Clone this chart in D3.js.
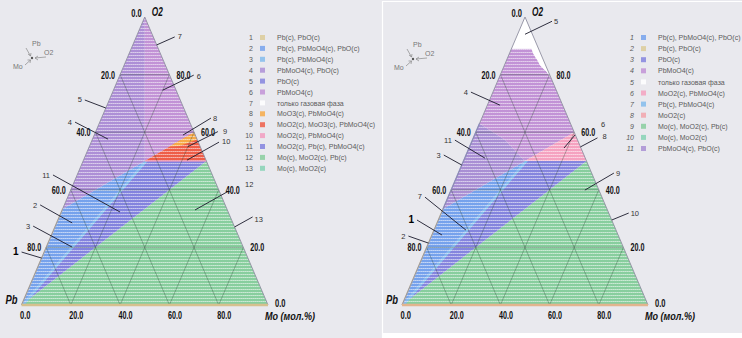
<!DOCTYPE html>
<html><head><meta charset="utf-8">
<script src="https://cdn.jsdelivr.net/npm/d3@7"></script>
<style>body{margin:0;background:#fff}svg{display:block}</style>
</head><body>
<svg id="c" width="742" height="338"></svg>
<script>
// ---------------- DATA ----------------
// compositions as [Mo, O2] mol.% (Pb = 100 - Mo - O2)
const cPb = [0, 0], cMo = [100, 0], cO2 = [0, 100];
const cPbO = [0, 33.3], cPbMoO4 = [25, 50], cMoO2 = [50, 50], cMoO3 = [40, 60];

const tickValues = [0, 20, 40, 60, 80];
const tickLabels = ["0.0", "20.0", "40.0", "60.0", "80.0"];
const apexLabel = "O2", leftVertexLabel = "Pb", rightVertexLabel = "Mo (мол.%)";

// left diagram legend
const leftLegendLabels = ["Pb(c), PbO(c)", "Pb(c), PbMoO4(c), PbO(c)", "Pb(c), PbMoO4(c)", "PbMoO4(c), PbO(c)",
  "PbO(c)", "PbMoO4(c)", "только газовая фаза", "MoO3(c), PbMoO4(c)", "MoO2(c), MoO3(c), PbMoO4(c)",
  "MoO2(c), PbMoO4(c)", "MoO2(c), Pb(c), PbMoO4(c)", "Mo(c), MoO2(c), Pb(c)", "Mo(c), MoO2(c)"];
const leftLegendColors = ["#dccb98", "#76a2ec", "#84bcec", "#ad8fd6", "#8585de", "#c293d6", "#ffffff",
  "#f7aa48", "#ee5e48", "#f29cc0", "#8383de", "#88ce9e", "#86d2b4"];
// regions: legend index (1-based) and polygon vertices
const leftRegions = [
  {k: 12, pts: [cPb, cMo, cMoO2]},
  {k: 11, pts: [cPb, cMoO2, cPbMoO4]},
  {k: 2, pts: [cPb, cPbMoO4, cPbO]},
  {k: 3, pts: [cPb, cPbMoO4, [26.2, 50], [1.2, 0]]},
  {k: 4, pts: [cPbO, cPbMoO4, cO2]},
  {k: 6, pts: [cPbMoO4, cO2, cMoO3]},
  {k: 9, pts: [cPbMoO4, cMoO2, cMoO3]},
  {k: 8, pts: [[32.5, 55], cMoO3, [42.5, 57.5], [36.5, 55.2]]}
];
const leftEdgeLines = [
  {k: 1, pts: [cPb, cPbO]}, {k: 10, pts: [cPbMoO4, cMoO2]}
];
const leftNotes = [
  {t: "7", at: [9.7, 90.3], end: [18, -8], txt: [21, -9]},
  {t: "6", at: [20, 74.6], end: [31, -15], txt: [34, -14]},
  {t: "5", at: [0, 68.4], end: [-21, -8], txt: [-24, -9]},
  {t: "4", at: [6.3, 57.6], end: [-33, -17], txt: [-36, -17]},
  {t: "8", at: [36, 59], end: [28, -17], txt: [30, -17]},
  {t: "9", at: [40, 55], end: [30, -15], txt: [35, -16]},
  {t: "10", at: [42, 50.3], end: [32, -18], txt: [35, -19]},
  {t: "11", at: [23.8, 32.3], end: [-67, -37], txt: [-70, -37]},
  {t: "2", at: [6.3, 28.5], end: [-32, -18], txt: [-35, -18]},
  {t: "3", at: [10.5, 20.1], end: [-39, -21], txt: [-42, -21]},
  {t: "1", at: [0, 16.3], end: [-20, -6], txt: [-23, -6], bold: true},
  {t: "12", at: [53.9, 33], end: [32, -18], txt: [50, -26]},
  {t: "13", at: [72.9, 27.1], end: [18, -10], txt: [20, -8]}
];

// right diagram legend
const rightLegendLabels = ["Pb(c), PbMoO4(c), PbO(c)", "Pb(c), PbO(c)", "PbO(c)", "PbMoO4(c)",
  "только газовая фаза", "MoO2(c), PbMoO4(c)", "Pb(c), PbMoO4(c)", "MoO2(c)", "Mo(c), MoO2(c), Pb(c)",
  "Mo(c), MoO2(c)", "PbMoO4(c), PbO(c)"];
const rightLegendColors = ["#76a2ec", "#dccb98", "#8585de", "#c293d6", "#ffffff", "#f5a2c0", "#84bcec",
  "#f2a4ac", "#88ce9e", "#86d2b4", "#a98fd4"];
const whiteBoundary = [[0, 89], [8.2, 89], [9.5, 87.5], [11, 86.2], [12.8, 84.8], [14.4, 83.3], [16.5, 82], [18.3, 81], [21.3, 78.7]];
const rightRegions = [
  {k: 9, pts: [cPb, cMo, cMoO2]},
  {k: 3, pts: [cPb, cMoO2, cPbMoO4]},
  {k: 1, pts: [cPb, cPbMoO4, cPbO]},
  {k: 7, pts: [cPb, cPbMoO4, [26.2, 50], [1.2, 0]]},
  {k: 11, pts: [cPbO, cPbMoO4, [13, 57.5], [0, 63]]},
  {k: 4, pts: [[0, 63], [13, 57.5], cPbMoO4, cMoO3].concat(whiteBoundary.slice().reverse())},
  {k: 6, pts: [cPbMoO4, cMoO2, cMoO3]},
  {k: 5, pts: [cO2].concat(whiteBoundary)}
];
const rightEdgeLines = [{k: 2, pts: [cPb, cPbO]}, {k: 3, pts: [cPbO, [0, 63]]}];
const rightNotes = [
  {t: "5", at: [3, 94], end: [27, -13], txt: [29, -13]},
  {t: "4", at: [5.1, 69.4], end: [-29, -13], txt: [-32, -13]},
  {t: "11", at: [8.2, 51], end: [-30, -18], txt: [-33, -18]},
  {t: "3", at: [0, 48.6], end: [-18, -10], txt: [-21, -10]},
  {t: "6", at: [38.6, 54.5], end: [11, -13], txt: [37, -24]},
  {t: "8", at: [45.1, 54.9], end: [17, -9], txt: [22, -11]},
  {t: "9", at: [54.4, 39.9], end: [29, -17], txt: [31, -17]},
  {t: "10", at: [70.5, 29.5], end: [17, -7], txt: [19, -7]},
  {t: "7", at: [13, 26], end: [-41, -33], txt: [-44, -34]},
  {t: "1", at: [4.1, 24.3], end: [-25, -15], txt: [-28, -15], bold: true},
  {t: "2", at: [0, 21.5], end: [-20, -7], txt: [-23, -7]}
];

// ---------------- DRAW ----------------
const svg = d3.select("#c");
const defs = svg.append("defs");
const patDone = {};
function pat(color) {
  const id = "p" + color.slice(1);
  if (!patDone[id]) {
    patDone[id] = 1;
    const p = defs.append("pattern").attr("id", id).attr("patternUnits", "userSpaceOnUse")
      .attr("width", 2).attr("height", 3);
    p.append("rect").attr("width", 2).attr("height", 3).attr("fill", color);
    p.append("rect").attr("y", 1).attr("width", 2).attr("height", 1).attr("fill", "#fff").attr("opacity", 0.4);
    p.append("rect").attr("x", 1).attr("y", 1).attr("width", 1).attr("height", 1).attr("fill", "#fff").attr("opacity", 0.25);
  }
  return "url(#" + id + ")";
}

svg.append("rect").attr("width", 742).attr("height", 338).attr("fill", "#e9e9ee");
svg.append("rect").attr("x", 382).attr("y", 333).attr("width", 360).attr("height", 5).attr("fill", "#ffffff");
svg.append("path").attr("d", "M382.5,338V1.5H742").attr("fill", "none").attr("stroke", "#fff").attr("stroke-width", 1.2);

const tickFont = "'Liberation Sans Narrow','Arial Narrow','Liberation Sans',sans-serif";
const legFont = "'Liberation Sans',Arial,sans-serif";

function drawPanel(o) {
  const g = svg.append("g");
  const sx = d3.scaleLinear().domain([0, 100]).range([o.x0, o.x1]);
  const sy = d3.scaleLinear().domain([0, 100]).range([o.yBase, o.yTop]);
  const P = d => [sx(d[0] + d[1] / 2), sy(d[1])];
  const line = d3.line();

  o.regions.forEach(r => {
    const col = o.colors[r.k - 1];
    g.append("path").attr("d", line(r.pts.map(P)) + "Z")
      .attr("fill", col === "#ffffff" ? "#ffffff" : pat(col)).attr("stroke", "none");
  });
  o.edgeLines.forEach(r => {
    g.append("path").attr("d", line(r.pts.map(P))).attr("fill", "none")
      .attr("stroke", o.colors[r.k - 1]).attr("stroke-width", 1.3).attr("opacity", 0.8);
  });

  // grid
  const grid = g.append("g").attr("stroke", "#24402f").attr("stroke-opacity", 0.55).attr("stroke-width", 0.6);
  tickValues.filter(v => v > 0).forEach(v => {
    grid.append("path").attr("d", line([[0, v], [100 - v, v]].map(P)));
    grid.append("path").attr("d", line([[v, 0], [v, 100 - v]].map(P)));
    grid.append("path").attr("d", line([[100 - v, 0], [0, 100 - v]].map(P)));
  });

  // edges
  g.append("path").attr("d", line([cPb, cO2, cMo].map(P))).attr("fill", "none")
    .attr("stroke", "#8e8ea0").attr("stroke-width", 0.9);
  g.append("path").attr("d", line([cPb, cMo].map(P))).attr("fill", "none")
    .attr("stroke", o.baseColor).attr("stroke-width", 2.4);

  // tick labels (condensed bold)
  const tl = g.append("g").attr("font-family", tickFont).attr("font-weight", "bold")
    .attr("font-size", "10px").attr("fill", "#111");
  const tx = (sel, s) => sel.text(s).attr("textLength", s.length * 3.5).attr("lengthAdjust", "spacingAndGlyphs");
  tickValues.forEach((v, i) => {
    const pl = P([0, 100 - v]);       // left edge: Pb = v
    tx(tl.append("text").attr("x", pl[0] - (v === 0 ? 3 : 5)).attr("y", pl[1] + (v === 0 ? 0 : 4))
      .attr("text-anchor", "end"), tickLabels[i]);
    const pr = P([100 - v, v]);       // right edge: O2 = v
    tx(tl.append("text").attr("x", pr[0] + 7).attr("y", pr[1] + (v === 0 ? 2 : 4)), tickLabels[i]);
    const pb = P([v, 0]);             // bottom: Mo = v
    tx(tl.append("text").attr("x", pb[0] - 1.5).attr("y", o.yBase + 13.5), tickLabels[i]);
  });
  const vl = g.append("g").attr("font-family", tickFont).attr("font-weight", "bold")
    .attr("font-style", "italic").attr("fill", "#111");
  const pa = P(cO2), pp = P(cPb), pm = P(cMo);
  vl.append("text").attr("x", pa[0] + 7).attr("y", pa[1] - 1).attr("font-size", "12px")
    .attr("textLength", 11).attr("lengthAdjust", "spacingAndGlyphs").text(apexLabel);
  vl.append("text").attr("x", pp[0] - 4).attr("y", pp[1] - 1).attr("text-anchor", "end").attr("font-size", "12px")
    .attr("textLength", 12).attr("lengthAdjust", "spacingAndGlyphs").text(leftVertexLabel);
  vl.append("text").attr("x", pm[0] - 3).attr("y", o.yBase + 15).attr("font-size", "11px")
    .attr("textLength", 50).attr("lengthAdjust", "spacingAndGlyphs").text(rightVertexLabel);

  // annotations
  const an = g.append("g").attr("font-family", legFont).attr("font-size", "8px").attr("fill", "#333");
  o.notes.forEach(n => {
    const p = P(n.at);
    an.append("line").attr("x1", p[0]).attr("y1", p[1]).attr("x2", p[0] + n.end[0]).attr("y2", p[1] + n.end[1])
      .attr("stroke", "#1a1a2a").attr("stroke-width", 0.9);
    an.append("text").attr("x", p[0] + n.txt[0]).attr("y", p[1] + n.txt[1] + 3)
      .attr("text-anchor", n.txt[0] < 0 ? "end" : "start")
      .attr("font-weight", n.bold ? "bold" : "normal").attr("font-size", n.bold ? "10px" : "7.5px")
      .attr("fill", n.bold ? "#000" : "#333").text(n.t);
  });

  // legend
  const lg = g.append("g").attr("font-family", legFont).attr("font-size", "7px").attr("fill", "#5a5a5a");
  o.legend.forEach((t, i) => {
    const y = o.legY + i * o.legDy;
    lg.append("text").attr("x", o.legX).attr("y", y + 2.6).attr("text-anchor", "end")
      .attr("font-style", o.italicNum ? "italic" : "normal").text(i + 1);
    lg.append("rect").attr("x", o.legX + 7).attr("y", y - 2.5).attr("width", 5).attr("height", 5)
      .attr("fill", o.colors[i] === "#ffffff" ? "#ffffff" : o.colors[i]).attr("opacity", 0.85);
    lg.append("text").attr("x", o.legX + 24).attr("y", y + 2.6).text(t);
  });

  // direction indicator
  const di = g.append("g").attr("font-family", legFont).attr("font-size", "7px").attr("fill", "#777");
  const c0 = o.dir;
  di.append("circle").attr("cx", c0[0]).attr("cy", c0[1]).attr("r", 1.2).attr("fill", "#555");
  di.append("text").attr("x", c0[0]).attr("y", c0[1] - 12).text("Pb");
  di.append("text").attr("x", c0[0] + 12).attr("y", c0[1] - 3).text("O2");
  di.append("text").attr("x", c0[0] - 19).attr("y", c0[1] + 11).text("Mo");
  const ar = di.append("g").attr("stroke", "#888").attr("stroke-width", 0.7).attr("fill", "none");
  ar.append("path").attr("d", `M${c0[0]-6},${c0[1]-10}L${c0[0]-1.5},${c0[1]-2}M${c0[0]-4},${c0[1]-4}L${c0[0]-1.5},${c0[1]-2}L${c0[0]-1},${c0[1]-5}`);
  ar.append("path").attr("d", `M${c0[0]+14},${c0[1]-1}L${c0[0]+3},${c0[1]}M${c0[0]+6},${c0[1]-2}L${c0[0]+3},${c0[1]}L${c0[0]+6},${c0[1]+2}`);
  ar.append("path").attr("d", `M${c0[0]-7},${c0[1]+7}L${c0[0]-1.5},${c0[1]+2}M${c0[0]-4.5},${c0[1]+2}L${c0[0]-1.5},${c0[1]+2}L${c0[0]-2},${c0[1]+5}`);
}

drawPanel({x0: 21.5, x1: 268, yTop: 17, yBase: 305, regions: leftRegions, edgeLines: leftEdgeLines,
  colors: leftLegendColors, legend: leftLegendLabels, notes: leftNotes, legX: 253, legY: 37.5, legDy: 10.9,
  italicNum: false, baseColor: "#d6c08e", dir: [32, 58]});
drawPanel({x0: 402, x1: 648, yTop: 17, yBase: 305, regions: rightRegions, edgeLines: rightEdgeLines,
  colors: rightLegendColors, legend: rightLegendLabels, notes: rightNotes, legX: 634, legY: 37.5, legDy: 11.1,
  italicNum: true, baseColor: "#e2b48e", dir: [413, 59]});
</script>
</body></html>
